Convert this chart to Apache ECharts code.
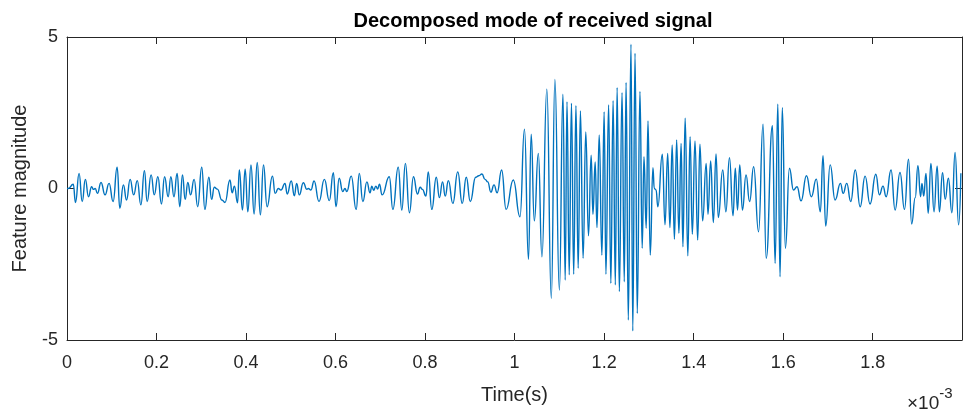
<!DOCTYPE html>
<html>
<head>
<meta charset="utf-8">
<script src="https://cdn.jsdelivr.net/npm/echarts@6/dist/echarts.min.js"></script>
<style>
html,body{margin:0;padding:0;background:#fff;}
#chart{width:964px;height:411px;}
</style>
</head>
<body>
<div id="chart"></div>
<script>
// Time in units of 1e-3 s (local extrema of the signal)
const timeMs = [
0,0.003,0.014,0.019,0.027,0.034,0.041,0.048,0.055,0.059,0.063,0.068,0.076,0.085,0.094,0.103,0.112,0.118,0.126,0.133,
0.141,0.149,0.157,0.165,0.173,0.179,0.188,0.195,0.203,0.211,0.218,0.226,0.232,0.239,0.246,0.252,0.258,0.264,0.270,0.276,
0.284,0.292,0.301,0.308,0.317,0.323,0.329,0.336,0.346,0.353,0.364,0.369,0.374,0.381,0.385,0.392,0.398,0.404,0.411,0.418,
0.425,0.432,0.439,0.447,0.459,0.465,0.472,0.478,0.487,0.492,0.501,0.508,0.513,0.519,0.528,0.536,0.539,0.545,0.552,0.563,
0.575,0.586,0.595,0.601,0.608,0.616,0.621,0.625,0.635,0.646,0.653,0.661,0.670,0.677,0.681,0.685,0.690,0.694,0.698,0.704,
0.720,0.728,0.740,0.748,0.756,0.765,0.774,0.783,0.789,0.794,0.802,0.807,0.815,0.825,0.832,0.839,0.845,0.852,0.862,0.873,
0.883,0.892,0.901,0.913,0.920,0.927,0.934,0.940,0.947,0.954,0.961,0.971,0.981,0.997,1.012,1.022,1.031,1.037,1.044,1.053,
1.061,1.072,1.082,1.090,1.100,1.108,1.113,1.117,1.122,1.127,1.132,1.137,1.142,1.147,1.153,1.159,1.165,1.171,1.175,1.180,
1.184,1.189,1.195,1.200,1.204,1.210,1.215,1.220,1.225,1.229,1.234,1.240,1.245,1.249,1.254,1.260,1.264,1.269,1.274,1.280,
1.285,1.289,1.294,1.298,1.303,1.309,1.312,1.316,1.320,1.330,1.336,1.342,1.347,1.352,1.357,1.362,1.367,1.372,1.376,1.381,
1.387,1.392,1.397,1.403,1.409,1.414,1.420,1.428,1.432,1.438,1.444,1.450,1.455,1.465,1.472,1.480,1.488,1.493,1.498,1.503,
1.509,1.517,1.525,1.534,1.545,1.555,1.562,1.576,1.582,1.588,1.593,1.598,1.605,1.614,1.623,1.631,1.640,1.652,1.663,1.674,
1.683,1.689,1.695,1.705,1.716,1.728,1.734,1.742,1.751,1.761,1.772,1.783,1.794,1.807,1.815,1.823,1.830,1.841,1.850,1.861,
1.871,1.880,1.887,1.895,1.901,1.907,1.910,1.914,1.919,1.924,1.930,1.937,1.944,1.949,1.956,1.962,1.969,1.977,1.984,1.992,
1.997
];
const magnitude = [
0,0,0.14,-0.46,0.5,-0.43,0.3,-0.27,0.06,-0.03,0.0,-0.16,0.2,-0.21,0.17,-0.43,0.7,-0.65,0.12,-0.38,
0.3,-0.21,0.26,-0.54,0.59,-0.43,0.45,-0.21,0.39,-0.51,0.39,-0.27,0.39,-0.27,0.5,-0.6,0.45,-0.36,0.2,-0.21,
0.3,-0.6,0.7,-0.69,0.37,-0.36,0.04,-0.02,-0.38,-0.46,0.28,-0.14,0.08,-0.47,0.61,-0.71,0.64,-0.77,0.78,-0.84,
0.86,-0.87,0.78,-0.6,0.41,-0.16,0.0,-0.05,0.17,-0.18,0.25,-0.24,0.17,-0.21,0.19,-0.03,0.0,-0.05,0.25,-0.43,
0.3,-0.4,0.52,-0.6,0.34,-0.1,0.0,-0.1,0.41,-0.69,0.5,-0.43,0.22,-0.14,0.08,-0.06,0.08,-0.02,0.14,-0.21,
0.39,-0.69,0.7,-0.71,0.83,-0.8,0.39,-0.18,0.04,-0.03,-0.25,0.55,-0.69,0.37,-0.3,0.22,-0.25,0.26,-0.49,0.55,
-0.49,0.37,-0.43,0.37,0.42,0.48,0.3,0.22,-0.12,0.12,-0.14,0.61,-0.69,0.28,-0.93,1.96,-2.34,1.79,-1.07,1.16,
-2.25,3.28,-3.62,3.6,-3.35,3.11,-3.02,2.86,-2.85,2.81,-2.83,2.73,-2.63,2.56,-2.3,1.87,-1.56,1.1,-0.85,0.88,
-1.29,1.77,-2.2,2.53,-2.83,2.76,-3.13,2.9,-3.18,3.33,-3.4,3.16,-3.08,3.5,-4.34,4.76,-4.7,4.46,-4.12,3.2,
-1.97,1.05,-1.31,2.23,-2.2,0.69,0.0,-0.05,-0.6,1.13,-1.2,1.16,-1.29,1.44,-1.68,1.6,-1.48,1.49,-1.92,2.32,
-2.22,1.71,-1.51,1.57,-1.7,1.46,-1.07,0.83,-0.85,0.91,-1.12,1.14,-0.96,0.61,-0.77,1.02,-0.9,0.67,-0.71,0.78,
-0.71,0.45,-0.43,0.72,-1.43,2.12,-2.3,2.07,-2.47,2.78,-2.91,2.67,-1.97,0.67,-0.05,0.06,-0.41,0.42,-0.27,0.31,
-0.77,1.08,-1.24,0.78,-0.38,0.17,-0.16,0.17,-0.43,0.61,-0.6,0.41,-0.51,0.47,-0.21,0.08,-0.27,0.61,-0.71,0.53,
-0.69,0.97,-1.17,-0.3,0.75,-0.27,0.17,-0.25,0.5,-0.82,0.83,-0.77,0.74,-0.77,0.52,-0.36,0.34,-0.8,1.19,-1.2,
0.5
];
const xTicks = [0, 0.2, 0.4, 0.6, 0.8, 1, 1.2, 1.4, 1.6, 1.8];
const yTicks = [-5, 0, 5];

const seriesData = timeMs.map((t, i) => [t, magnitude[i]]);
const axisColor = '#262626';
const fontFam = '"Liberation Sans", Arial, Helvetica, sans-serif';

function xLabel(v) {
  const hit = xTicks.find(t => Math.abs(t - v) < 1e-6);
  return hit === undefined ? '' : String(hit);
}
function yLabel(v) {
  const hit = yTicks.find(t => Math.abs(t - v) < 1e-6);
  return hit === undefined ? '' : String(hit);
}

const chart = echarts.init(document.getElementById('chart'), null, {renderer: 'canvas'});
const xBase = {
  type: 'value', min: 0, max: 1.9995, interval: 0.2,
  axisLine: {show: true, onZero: false, lineStyle: {color: axisColor, width: 1}},
  axisTick: {show: true, inside: true, length: 7, lineStyle: {color: axisColor}},
  splitLine: {show: false}
};
const yBase = {
  type: 'value', min: -5, max: 5, interval: 5,
  axisLine: {show: true, onZero: false, lineStyle: {color: axisColor, width: 1}},
  axisTick: {show: true, inside: true, length: 7, lineStyle: {color: axisColor}},
  splitLine: {show: false}
};
chart.setOption({
  animation: false,
  backgroundColor: '#ffffff',
  title: {
    text: 'Decomposed mode of received signal',
    left: 528, top: 6, textAlign: 'center',
    textStyle: {fontFamily: fontFam, fontSize: 20, fontWeight: 'bold', color: '#000'}
  },
  grid: {left: 67, right: 2, top: 37, bottom: 71, containLabel: false, outerBoundsMode: 'none'},
  xAxis: [
    Object.assign({}, xBase, {
      position: 'bottom',
      name: 'Time(s)', nameLocation: 'middle', nameGap: 45,
      nameTextStyle: {fontFamily: fontFam, fontSize: 20, color: axisColor},
      axisLabel: {formatter: xLabel, color: axisColor, fontFamily: fontFam, fontSize: 18, margin: 14}
    }),
    Object.assign({}, xBase, {position: 'top', axisLabel: {show: false}})
  ],
  yAxis: [
    Object.assign({}, yBase, {
      position: 'left',
      name: 'Feature magnitude', nameLocation: 'middle', nameGap: 37,
      nameTextStyle: {fontFamily: fontFam, fontSize: 20, color: axisColor},
      axisLabel: {formatter: yLabel, color: axisColor, fontFamily: fontFam, fontSize: 18, margin: 9}
    }),
    Object.assign({}, yBase, {position: 'right', axisLabel: {show: false}})
  ],
  graphic: [{
    type: 'text', left: 907, top: 386,
    style: {
      text: '{a|×10}{b|-3}',
      rich: {
        a: {fontFamily: fontFam, fontSize: 19, fill: axisColor, verticalAlign: 'bottom'},
        b: {fontFamily: fontFam, fontSize: 15, fill: axisColor, verticalAlign: 'top', padding: [0, 0, 12, 0]}
      }
    }
  }],
  series: [{
    type: 'line',
    xAxisIndex: 0, yAxisIndex: 0,
    data: seriesData,
    showSymbol: false,
    smooth: 0.5,
    smoothMonotone: 'x',
    lineStyle: {color: '#0072BD', width: 1.4},
    clip: true
  }]
});
</script>
</body>
</html>
